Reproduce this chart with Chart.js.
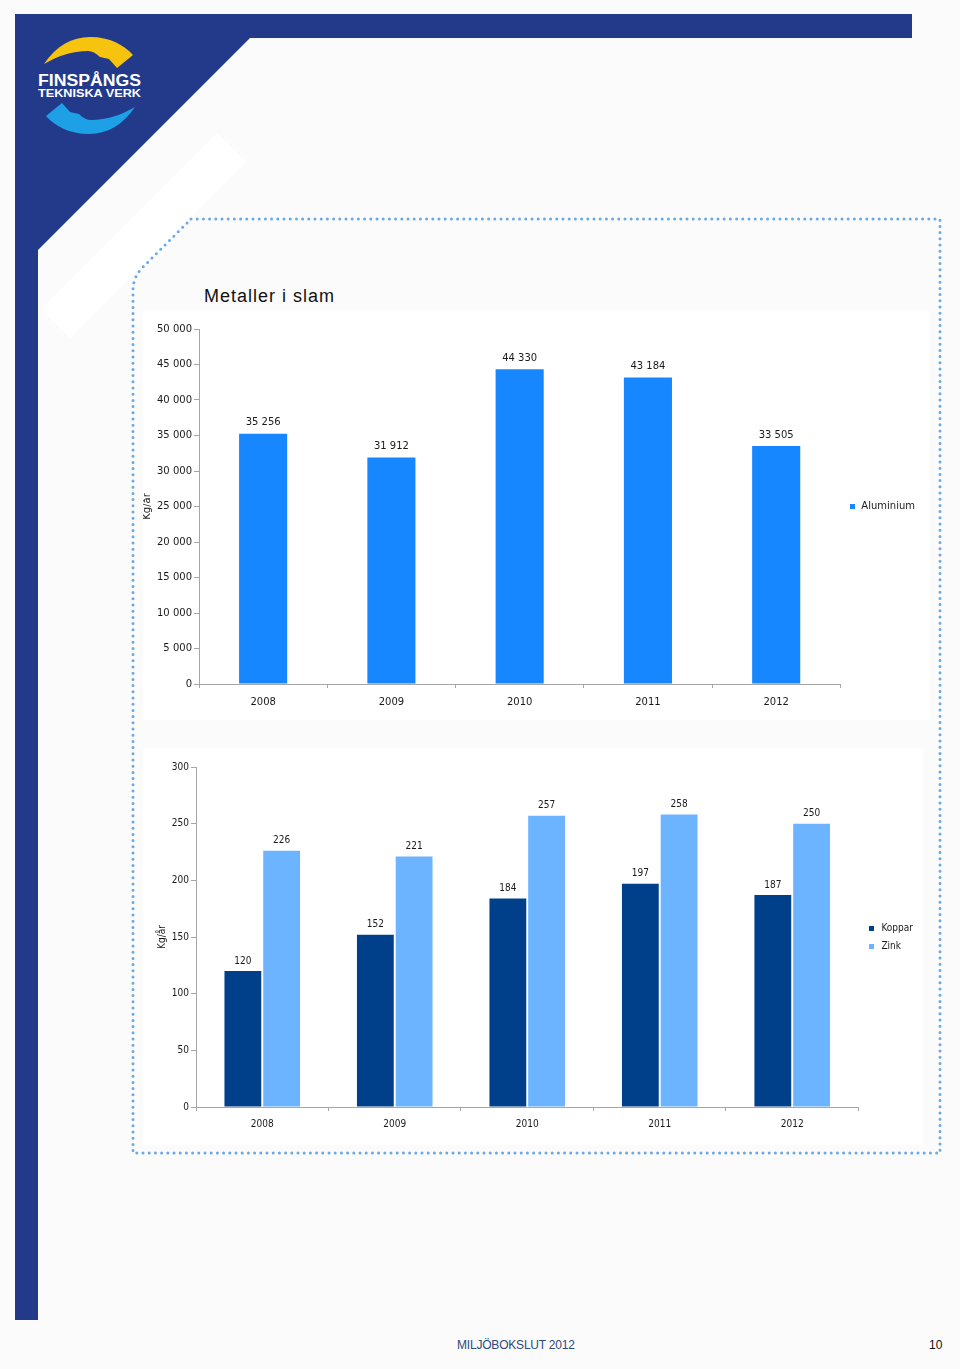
<!DOCTYPE html>
<html lang="sv">
<head>
<meta charset="utf-8">
<title>Metaller i slam</title>
<script src="https://cdn.jsdelivr.net/npm/chart.js@4.4.1/dist/chart.umd.min.js"></script>
<style>
  html, body { margin: 0; padding: 0; background: #fff; }
  #page { position: relative; width: 960px; height: 1369px; background: #fbfbfb; overflow: hidden;
          font-family: "Liberation Sans", Arial, sans-serif; }
  #deco { position: absolute; left: 0; top: 0; }
  .box { position: absolute; background: #fff; }
  .box canvas { display: block; }
  #title { position: absolute; left: 204px; top: 286px; font-size: 18px; line-height: 20px;
           letter-spacing: 1px; color: #111; }
  #footer { position: absolute; left: 457px; top: 1338px; font-size: 12px; color: #2c4a7c; letter-spacing: -0.2px; }
  #pageno { position: absolute; left: 929px; top: 1338px; font-size: 12px; color: #111; }
</style>
</head>
<body>
<div id="page">
  <svg id="deco" width="960" height="1369">
    <polygon points="15,14 912,14 912,38 250,38 38,250 38,1320 15,1320" fill="#233a8b"/>
    <polygon points="217,133 246,162 70,338 41,309" fill="#ffffff"/>
    <path d="M191,219 L940,219 L940,1153 L133,1153 L133,290 Q133,277 143,267 Z"
          fill="none" stroke="#6aa9e4" stroke-width="3" stroke-dasharray="0 6.2" stroke-linecap="round"/>
    <path d="M44,64 C56,46 72,37 90,37 C110,37 124,45 133,55 L117,68 L109,59 L100,57 C96,53 92,51 88,51 C72,51 58,56 44,64 Z"
          fill="#f6c40f"/>
    <path d="M44,64 C56,46 72,37 90,37 C110,37 124,45 133,55 L117,68 L109,59 L100,57 C96,53 92,51 88,51 C72,51 58,56 44,64 Z"
          fill="#1ea0e6" transform="rotate(180 89.5 85.5)"/>
    <text x="38" y="86" font-family="Liberation Sans, Arial" font-weight="bold" font-size="16"
          fill="#fff" textLength="103" lengthAdjust="spacingAndGlyphs">FINSPÅNGS</text>
    <text x="38" y="97" font-family="Liberation Sans, Arial" font-weight="bold" font-size="11.5"
          fill="#fff" textLength="103" lengthAdjust="spacingAndGlyphs">TEKNISKA VERK</text>
  </svg>

  <div id="title">Metaller i slam</div>
  <div class="box" style="left:143px; top:311px;"><canvas id="alu" width="787" height="409"></canvas></div>
  <div class="box" style="left:143px; top:748px;"><canvas id="cuzn" width="780" height="397"></canvas></div>

  <div id="footer">MILJÖBOKSLUT 2012</div>
  <div id="pageno">10</div>
</div>

<script>
const years = ['2008', '2009', '2010', '2011', '2012'];
const aluminium = [35256, 31912, 44330, 43184, 33505];
const koppar = [120, 152, 184, 197, 187];
const zink = [226, 221, 257, 258, 250];

const axisColor = '#a6a6a6';
const textColor = '#1a1a1a';

function fmt(v) {
  return String(v).replace(/\B(?=(\d{3})+(?!\d))/g, ' ');
}

// small square used as legend marker
function swatch(color) {
  const c = document.createElement('canvas');
  c.width = 5; c.height = 5;
  const g = c.getContext('2d');
  g.fillStyle = color;
  g.fillRect(0, 0, 5, 5);
  return c;
}

// value labels above each bar
const valueLabels = {
  id: 'valueLabels',
  afterDatasetsDraw(chart, args, opts) {
    const ctx = chart.ctx;
    ctx.save();
    ctx.font = opts.font;
    ctx.fillStyle = textColor;
    ctx.textAlign = 'center';
    ctx.textBaseline = 'middle';
    chart.data.datasets.forEach((ds, i) => {
      chart.getDatasetMeta(i).data.forEach((bar, j) => {
        ctx.fillText(fmt(ds.data[j]), bar.x, bar.y - opts.gap);
      });
    });
    ctx.restore();
  }
};

function baseOptions(o) {
  const font = { family: o.family, size: 10 };
  return {
    responsive: false,
    animation: false,
    layout: { padding: { top: o.padTop, right: o.padRight, left: 0, bottom: 0 } },
    plugins: {
      legend: {
        position: 'right',
        align: 'center',
        fullSize: false,
        labels: { usePointStyle: true, pointStyleWidth: o.legendBox, padding: 8, font: font, color: textColor }
      },
      tooltip: { enabled: false },
      valueLabels: { font: '10px "' + o.family + '", "DejaVu Sans"', gap: o.gap }
    },
    scales: {
      x: {
        grid: { drawOnChartArea: false, offset: true, tickLength: 4, color: axisColor },
        border: { color: axisColor },
        ticks: { font: font, color: textColor, padding: o.xPad },
        afterFit: s => { s.height = o.xHeight; }
      },
      y: {
        min: 0, max: o.yMax,
        grid: { drawOnChartArea: false, tickLength: 5, color: axisColor },
        border: { color: axisColor },
        ticks: { stepSize: o.yStep, font: font, color: textColor, padding: 2, callback: v => fmt(v) },
        title: { display: true, text: 'Kg/år', font: font, color: textColor, padding: { top: o.titlePad, bottom: 0 } },
        afterFit: s => { s.width = o.yWidth; }
      }
    }
  };
}

new Chart(document.getElementById('alu'), {
  type: 'bar',
  data: {
    labels: years,
    datasets: [{
      label: 'Aluminium',
      data: aluminium,
      backgroundColor: '#1687fe',
      pointStyle: swatch('#1687fe'),
      categoryPercentage: 0.375,
      barPercentage: 1
    }]
  },
  options: baseOptions({
    family: 'DejaVu Sans', yMax: 50000, yStep: 5000, yWidth: 56, xHeight: 36, xPad: 8,
    titlePad: -2, legendBox: 8, padTop: 18, padRight: 5, gap: 11
  }),
  plugins: [valueLabels]
});

new Chart(document.getElementById('cuzn'), {
  type: 'bar',
  data: {
    labels: years,
    datasets: [{
      label: 'Koppar',
      data: koppar,
      backgroundColor: '#00408a',
      pointStyle: swatch('#00408a'),
      categoryPercentage: 0.585,
      barPercentage: 0.95
    }, {
      label: 'Zink',
      data: zink,
      backgroundColor: '#6cb4ff',
      pointStyle: swatch('#6cb4ff'),
      categoryPercentage: 0.585,
      barPercentage: 0.95
    }]
  },
  options: baseOptions({
    family: 'DejaVu Sans Condensed', yMax: 300, yStep: 50, yWidth: 53, xHeight: 38, xPad: 7,
    titlePad: 13, legendBox: 10, padTop: 19, padRight: 0, gap: 10
  }),
  plugins: [valueLabels]
});
</script>
</body>
</html>
